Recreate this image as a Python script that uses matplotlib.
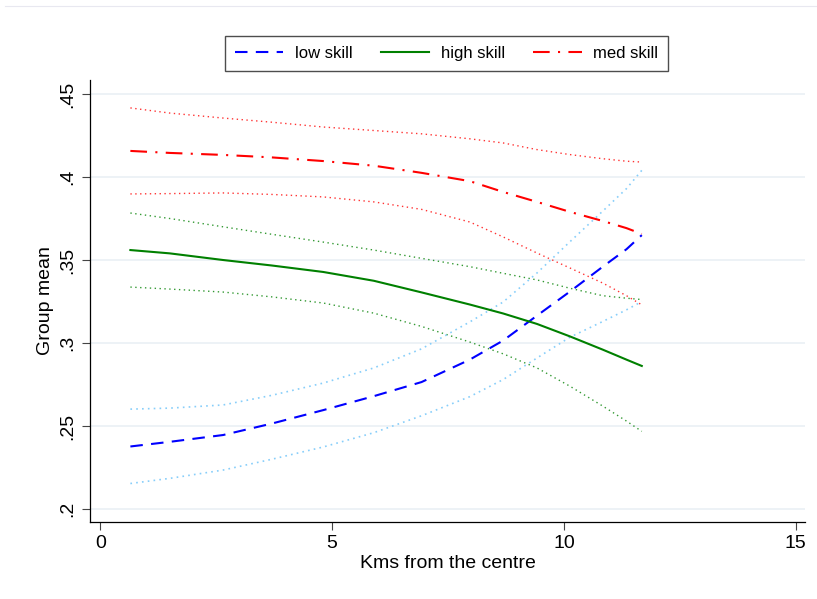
import matplotlib
matplotlib.use("Agg")
import matplotlib.pyplot as plt
from matplotlib.lines import Line2D

plt.rcParams["font.family"] = ["Liberation Sans", "DejaVu Sans"]

# distance from the centre (km)
kms = [0.65, 1.5, 2.65, 3.7, 4.81, 5.9, 6.93, 7.97, 8.69, 9.42, 10.13, 10.84, 11.35, 11.68]

low_mean = [0.2377, 0.2405, 0.2446, 0.2515, 0.2596, 0.2680, 0.2765, 0.2900, 0.3015, 0.3165, 0.3310, 0.3460, 0.3565, 0.3650]
low_hi = [0.2602, 0.2608, 0.2627, 0.2685, 0.2759, 0.2850, 0.2965, 0.3127, 0.3247, 0.3422, 0.3610, 0.3795, 0.3930, 0.4040]
low_lo = [0.2154, 0.2185, 0.2235, 0.2300, 0.2374, 0.2460, 0.2562, 0.2677, 0.2780, 0.2910, 0.3035, 0.3130, 0.3200, 0.3250]

high_mean = [0.3560, 0.3540, 0.3500, 0.3467, 0.3428, 0.3375, 0.3305, 0.3232, 0.3178, 0.3115, 0.3040, 0.2960, 0.2900, 0.2862]
high_hi = [0.3783, 0.3750, 0.3700, 0.3655, 0.3608, 0.3560, 0.3510, 0.3460, 0.3420, 0.3380, 0.3330, 0.3285, 0.3270, 0.3262]
high_lo = [0.3337, 0.3325, 0.3307, 0.3278, 0.3241, 0.3180, 0.3100, 0.3006, 0.2935, 0.2850, 0.2740, 0.2620, 0.2530, 0.2468]

med_mean = [0.4157, 0.4145, 0.4133, 0.4118, 0.4096, 0.4068, 0.4025, 0.3975, 0.3910, 0.3850, 0.3790, 0.3735, 0.3692, 0.3657]
med_hi = [0.4416, 0.4385, 0.4355, 0.4330, 0.4301, 0.4280, 0.4260, 0.4230, 0.4205, 0.4165, 0.4135, 0.4110, 0.4095, 0.4090]
med_lo = [0.3898, 0.3900, 0.3904, 0.3895, 0.3880, 0.3850, 0.3805, 0.3729, 0.3639, 0.3542, 0.3452, 0.3361, 0.3285, 0.3230]

xticks = [0, 5, 10, 15]
yticks = [0.2, 0.25, 0.3, 0.35, 0.4, 0.45]
ytick_labels = [".2", ".25", ".3", ".35", ".4", ".45"]

fig = plt.figure(figsize=(8.17, 5.99), dpi=100)
ax = fig.add_axes([0.1102, 0.1285, 0.8751, 0.7379])

# confidence bands as thin dotted lines
dot = (0, (1, 2.5))
ax.plot(kms, med_hi, color="#ff0000", lw=1.0, ls=dot, alpha=0.8)
ax.plot(kms, med_lo, color="#ff0000", lw=1.0, ls=dot, alpha=0.8)
ax.plot(kms, high_hi, color="#008000", lw=1.0, ls=dot, alpha=0.8)
ax.plot(kms, high_lo, color="#008000", lw=1.0, ls=dot, alpha=0.8)
ax.plot(kms, low_hi, color="#87cefa", lw=1.2, ls=dot)
ax.plot(kms, low_lo, color="#87cefa", lw=1.2, ls=dot)

l1, = ax.plot(kms, low_mean, color="#0000ff", lw=1.5, ls=(0, (6, 4)))
l2, = ax.plot(kms, high_mean, color="#008000", lw=1.5, ls="-")
l3, = ax.plot(kms, med_mean, color="#ff0000", lw=1.5, ls=(0, (8, 4, 1, 4)))

ax.set_xlim(-0.22, 15.2)
ax.set_ylim(0.1922, 0.4584)
ax.set_xticks(xticks)
ax.set_yticks(yticks)
ax.set_yticklabels(ytick_labels, rotation=90, va="center")
ax.tick_params(axis="both", labelsize=14, length=6, width=0.8, color="#444444")
ax.tick_params(axis="y", pad=4)
ax.grid(axis="y", color="#eaf0f5", lw=1.2)
ax.set_axisbelow(True)
for side in ["top", "right"]:
    ax.spines[side].set_visible(False)
for side in ["left", "bottom"]:
    ax.spines[side].set_linewidth(0.9)

ax.set_xlabel("Kms from the centre", fontsize=14, labelpad=2)
ax.set_ylabel("Group mean", fontsize=14, labelpad=4)

fig.legend([l1, l2, l3], ["low skill", "high skill", "med skill"],
           loc="center", bbox_to_anchor=(0.5465, 0.9107), ncol=3,
           fontsize=12, frameon=True, fancybox=False, edgecolor="#222222",
           handlelength=2.9, handletextpad=0.7, columnspacing=1.7,
           borderpad=0.6, borderaxespad=0)

fig.add_artist(Line2D([0.006, 1.0], [0.99, 0.99], color="#e8e8f0", lw=0.8))

fig.savefig("out.png", dpi=100)
